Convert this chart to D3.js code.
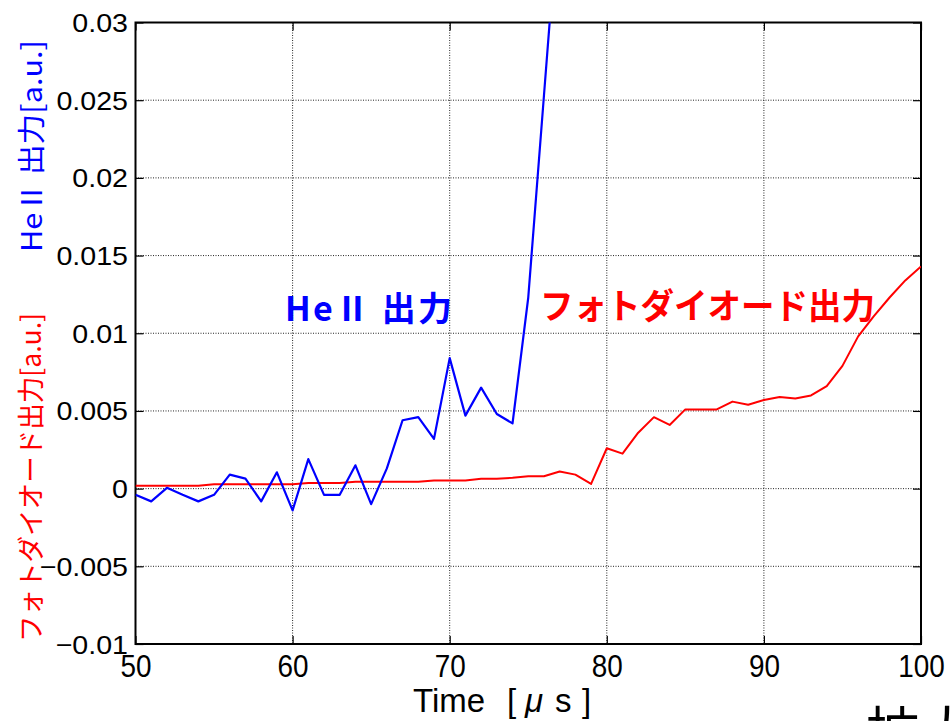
<!DOCTYPE html>
<html>
<head>
<meta charset="utf-8">
<script src="https://cdn.jsdelivr.net/npm/d3@7"></script>
<style>
  html, body { margin: 0; padding: 0; background: #fff; }
  svg { display: block; }
</style>
</head>
<body>
<script>
// Time axis (µs)
const timeHeII = [50,51,52,53,54,55,56,57,58,59,60,61,62,63,64,65,66,67,68,69,70,71,72,73,74,75,76,77];
const heII = [-0.0004,-0.00082,0.00005,-0.0004,-0.00082,-0.0004,0.0009,0.00064,-0.00082,0.00105,-0.0014,0.0019,
  -0.0004,-0.0004,0.0015,-0.001,0.0013,0.0044,0.0046,0.0032,0.0084,0.0047,0.0065,0.0048,0.0042,0.0123,0.0253,0.0383];

const timePD = d3.range(50, 101);
const photodiode = [0.00019,0.00019,0.00019,0.00019,0.00019,0.00028,0.00028,0.00028,0.00028,0.00028,0.00028,
  0.00036,0.00036,0.00036,0.00045,0.00045,0.00045,0.00045,0.00045,0.00053,0.00053,0.00053,0.00064,0.00064,
  0.0007,0.0008,0.0008,0.0011,0.0009,0.0003,0.0026,0.00225,0.0036,0.0046,0.0041,0.0051,0.0051,0.0051,
  0.0056,0.0054,0.0057,0.0059,0.0058,0.006,0.0066,0.0079,0.0098,0.0111,0.0123,0.0134,0.0143];

const xTicks = [50,60,70,80,90,100];
const xTickLabels = ["50","60","70","80","90","100"];
const yTicks = [-0.01,-0.005,0,0.005,0.01,0.015,0.02,0.025,0.03];
const yTickLabels = ["\u22120.01","\u22120.005","0","0.005","0.01","0.015","0.02","0.025","0.03"];

const W = 950, H = 721;
const plotL = 135.5, plotR = 921, plotT = 22.5, plotB = 644;
const numFont = "'Liberation Sans', Arial, sans-serif";
const jpFont = "'Noto Sans CJK JP', 'Noto Sans CJK SC', sans-serif";

const svg = d3.select("body").append("svg").attr("width", W).attr("height", H);

const x = d3.scaleLinear().domain([50, 100]).range([plotL, plotR]);
const y = d3.scaleLinear().domain([-0.01, 0.03]).range([plotB, plotT]);

// dotted grid
const grid = svg.append("g").attr("stroke", "#000").attr("stroke-width", 1)
  .attr("stroke-dasharray", "1,1.5").attr("opacity", 0.85);
grid.selectAll("line.gx").data(xTicks.slice(1, -1)).join("line")
  .attr("x1", d => x(d)).attr("x2", d => x(d)).attr("y1", plotT).attr("y2", plotB);
grid.selectAll("line.gy").data(yTicks.slice(1, -1)).join("line")
  .attr("x1", plotL).attr("x2", plotR).attr("y1", d => y(d)).attr("y2", d => y(d));

// axes with inward ticks
const tick = 8;
const gLeft = svg.append("g").attr("transform", `translate(${plotL},0)`)
  .call(d3.axisLeft(y).tickValues(yTicks).tickSize(-tick).tickPadding(8)
    .tickFormat((d, i) => yTickLabels[i]));
const gRight = svg.append("g").attr("transform", `translate(${plotR},0)`)
  .call(d3.axisRight(y).tickValues(yTicks).tickSize(-tick).tickFormat(""));
const gBottom = svg.append("g").attr("transform", `translate(0,${plotB})`)
  .call(d3.axisBottom(x).tickValues(xTicks).tickSize(-tick).tickPadding(10)
    .tickFormat((d, i) => xTickLabels[i]));
const gTop = svg.append("g").attr("transform", `translate(0,${plotT})`)
  .call(d3.axisTop(x).tickValues(xTicks).tickSize(-tick).tickFormat(""));

[gLeft, gRight, gBottom, gTop].forEach(g => {
  g.select(".domain").remove();
  g.selectAll(".tick line").attr("stroke", "#000").attr("stroke-width", 1.2);
});

gLeft.selectAll(".tick text")
  .attr("x", null).attr("dy", null)
  .attr("transform", "translate(-7.5,9) scale(1.1,1)")
  .attr("font-family", numFont).attr("font-size", 26).attr("fill", "#000");

gBottom.selectAll(".tick text")
  .attr("y", null).attr("dy", null)
  .attr("transform", "translate(0,33) scale(0.9,1)")
  .attr("font-family", numFont).attr("font-size", 31).attr("fill", "#000");

// plot frame
svg.append("rect").attr("x", plotL).attr("y", plotT)
  .attr("width", plotR - plotL).attr("height", plotB - plotT)
  .attr("fill", "none").attr("stroke", "#000").attr("stroke-width", 2);

// clipped data lines
svg.append("clipPath").attr("id", "plotClip").append("rect")
  .attr("x", plotL).attr("y", plotT).attr("width", plotR - plotL).attr("height", plotB - plotT);

const plot = svg.append("g").attr("clip-path", "url(#plotClip)");
const line = d3.line().x(d => x(d[0])).y(d => y(d[1]));

plot.append("path")
  .datum(timePD.map((t, i) => [t, photodiode[i]]))
  .attr("d", line).attr("fill", "none").attr("stroke", "#ff0000")
  .attr("stroke-width", 2).attr("stroke-linejoin", "round");

plot.append("path")
  .datum(timeHeII.map((t, i) => [t, heII[i]]))
  .attr("d", line).attr("fill", "none").attr("stroke", "#0000ff")
  .attr("stroke-width", 2.2).attr("stroke-linejoin", "round");

// in-plot annotations
svg.append("text").attr("x", 285).attr("y", 321)
  .attr("font-family", jpFont).attr("font-weight", "bold").attr("font-size", 34)
  .attr("fill", "#0000ff").attr("textLength", 167).attr("lengthAdjust", "spacing")
  .text("HeⅡ 出力");

svg.append("text").attr("x", 540).attr("y", 319)
  .attr("font-family", jpFont).attr("font-weight", "bold").attr("font-size", 35)
  .attr("fill", "#ff0000").attr("textLength", 335).attr("lengthAdjust", "spacingAndGlyphs")
  .text("フォトダイオード出力");

// y-axis titles (two colours, stacked vertically)
svg.append("text").attr("transform", "translate(41,642) rotate(-90)")
  .attr("font-family", jpFont).attr("font-size", 27).attr("fill", "#ff0000")
  .attr("textLength", 329).attr("lengthAdjust", "spacingAndGlyphs")
  .text("フォトダイオード出力[a.u.]");

svg.append("text").attr("transform", "translate(42,252) rotate(-90)")
  .attr("font-family", jpFont).attr("font-size", 28).attr("fill", "#0000ff")
  .attr("textLength", 212).attr("lengthAdjust", "spacingAndGlyphs")
  .text("HeⅡ 出力[a.u.]");

// x-axis title
const xt = svg.append("text").attr("y", 712)
  .attr("font-family", numFont).attr("font-size", 33).attr("fill", "#000");
xt.append("tspan").attr("x", 413).text("Time");
xt.append("tspan").attr("x", 507).attr("font-weight", "300").text("[");
xt.append("tspan").attr("x", 525).attr("font-style", "italic").text("μ");
xt.append("tspan").attr("x", 555).text("s");
xt.append("tspan").attr("x", 582).text("]");

// caption partly below the figure
svg.append("text").attr("x", 866).attr("y", 752)
  .attr("font-family", jpFont).attr("font-size", 54).attr("fill", "#000")
  .text("拡大");
</script>
</body>
</html>
